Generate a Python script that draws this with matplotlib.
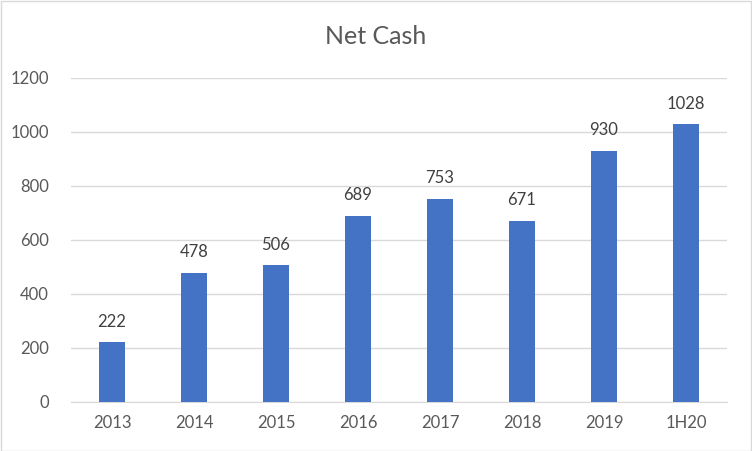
import matplotlib
matplotlib.use("Agg")
import matplotlib.pyplot as plt
from matplotlib.patches import Rectangle

categories = ["2013", "2014", "2015", "2016", "2017", "2018", "2019", "1H20"]
values = [222, 478, 506, 689, 753, 671, 930, 1028]
yticks = [0, 200, 400, 600, 800, 1000, 1200]

plt.rcParams['font.family'] = ['Lato', 'DejaVu Sans']

fig = plt.figure(figsize=(7.52, 4.51), dpi=100)
fig.patches.append(Rectangle((0.5/752, 0.5/451), 1 - 1.5/752, 1 - 1.5/451, transform=fig.transFigure,
                             fill=False, edgecolor="#D9D9D9", linewidth=1))
ax = fig.add_axes([71/752, 1 - 402/451, (727 - 71)/752, (402 - 78)/451])

x = range(len(categories))
bars = ax.bar(x, values, width=0.32, color="#4472C4", zorder=3)
for xi, v in zip(x, values):
    ax.annotate(str(v), (xi, v), xytext=(0, 9), textcoords="offset points",
                ha="center", va="bottom", fontsize=12, color="#404040")

ax.set_xlim(-0.5, len(categories) - 0.5)
ax.set_ylim(0, 1200)
ax.set_yticks(yticks)
ax.set_xticks(list(x))
ax.set_xticklabels(categories)
ax.grid(axis="y", color="#D9D9D9", linewidth=1, zorder=0)
for s in ["top", "right", "left"]:
    ax.spines[s].set_visible(False)
ax.spines["bottom"].set_color("#D9D9D9")
ax.tick_params(axis="both", length=0, labelsize=12, labelcolor="#595959")
ax.tick_params(axis="y", pad=16)
ax.tick_params(axis="x", pad=9)
fig.text(0.5, 1 - 36/451, "Net Cash", ha="center", va="center", fontsize=18, color="#595959")

fig.savefig("out.png", dpi=100)
